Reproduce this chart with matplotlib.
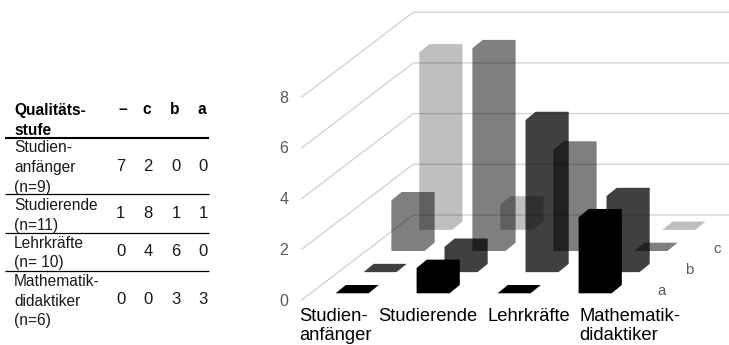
import matplotlib
matplotlib.use("Agg")
import matplotlib.pyplot as plt
from matplotlib.patches import Polygon

plt.rcParams['font.family'] = ['Liberation Sans', 'DejaVu Sans']

# ---- data ----
table_header = ["Qualitäts-\nstufe", "–", "c", "b", "a"]
row_labels = ["Studien-\nanfänger\n(n=9)", "Studierende\n(n=11)", "Lehrkräfte\n(n= 10)", "Mathematik-\ndidaktiker\n(n=6)"]
chart_categories = ["Studien-\nanfänger", "Studierende", "Lehrkräfte", "Mathematik-\ndidaktiker"]
series_dash = [7, 1, 0, 0]
series_c = [2, 8, 4, 0]
series_b = [0, 1, 6, 3]
series_a = [0, 1, 0, 3]
value_ticks = [0, 2, 4, 6, 8]
depth_labels = ["a", "b", "c"]

# series front to back, each black with its own opacity (multiplies like the original)
series = [series_a, series_b, series_c, series_dash]
series_alpha = [1.0, 0.75, 0.5, 0.25]

# ---- oblique projection, in figure pixels ----
UNIT = 25.35          # px per value unit
CAT_STEP = 81.0       # px between categories
DEPTH_X, DEPTH_Y = 27.9, 21.15   # px per series row
BAR_W = 33.0
BAR_DX, BAR_DY = 10.2, 8.3
X0, Y0 = 335.6, 293.3  # front-left corner of first bar


def base(cat, depth):
    return X0 + CAT_STEP * cat + DEPTH_X * depth, Y0 - DEPTH_Y * depth


def bar_outline(cat, depth, value):
    x, y = base(cat, depth)
    top = y - UNIT * value
    return [(x, y), (x, top), (x + BAR_DX, top - BAR_DY),
            (x + BAR_W + BAR_DX, top - BAR_DY), (x + BAR_W + BAR_DX, y - BAR_DY), (x + BAR_W, y)]


fig = plt.figure(figsize=(7.29, 3.45), dpi=100)
ax = fig.add_axes([0, 0, 1, 1])
ax.set_xlim(0, 729)
ax.set_ylim(345, 0)
ax.axis("off")

# ---- walls ----
GRID = "#d4d4d4"
for v in value_ticks:
    y_front = 300.0 - UNIT * v
    y_back = 215.0 - UNIT * v
    ax.plot([301.7, 413.3, 729], [y_front, y_back, y_back], color=GRID, lw=1.0, zorder=1)
    ax.text(284, y_front + 1, str(v), color="#595959", fontsize=11.5, ha="center", va="center")

# ---- bars, back to front ----
for depth in range(3, -1, -1):
    for cat in range(4):
        ax.add_patch(Polygon(bar_outline(cat, depth, series[depth][cat]), closed=True,
                             facecolor="black", edgecolor="none",
                             alpha=series_alpha[depth], zorder=2 + (3 - depth)))

# ---- axis labels ----
for cat, (name, xp) in enumerate(zip(chart_categories, [299.5, 378, 487.5, 579.5])):
    ax.text(xp, 308, name, color="black", fontsize=13.2, ha="left", va="top", linespacing=1.19)
for depth, name in enumerate(depth_labels):
    ax.text(661.5 + DEPTH_X * depth, 291 - DEPTH_Y * depth, name, color="#595959",
            fontsize=10.8, ha="center", va="center")

# ---- table ----
TABLE_TXT = "#1a1a1a"
header_x = [123, 146.5, 175, 201.5]
col_x = [120.7, 148, 176, 203]
ax.text(14, 103, table_header[0], fontsize=11.2, fontweight="bold", color="black",
        ha="left", va="top", linespacing=1.38)
for x, h in zip(header_x, table_header[1:]):
    ax.text(x, 110, h, fontsize=11.2, fontweight="bold", color="black", ha="center", va="center")

row_top = [140.5, 198, 235.7, 274]
row_mid = [166.7, 214, 252, 299.5]
rules = [137.7, 194.3, 232.7, 270.7]
for i, y in enumerate(rules):
    ax.plot([5.5, 209], [y, y], color="black", lw=1.5 if i == 0 else 0.9, solid_capstyle="butt", zorder=5)
rows = list(zip(series_dash, series_c, series_b, series_a))
for label, top, mid, vals in zip(row_labels, row_top, row_mid, rows):
    ax.text(14, top, label, fontsize=11.2, color=TABLE_TXT, ha="left", va="top", linespacing=1.38)
    for x, v in zip(col_x, vals):
        ax.text(x, mid, str(v), fontsize=12, color=TABLE_TXT, ha="center", va="center")

fig.savefig("out.png", dpi=100)
